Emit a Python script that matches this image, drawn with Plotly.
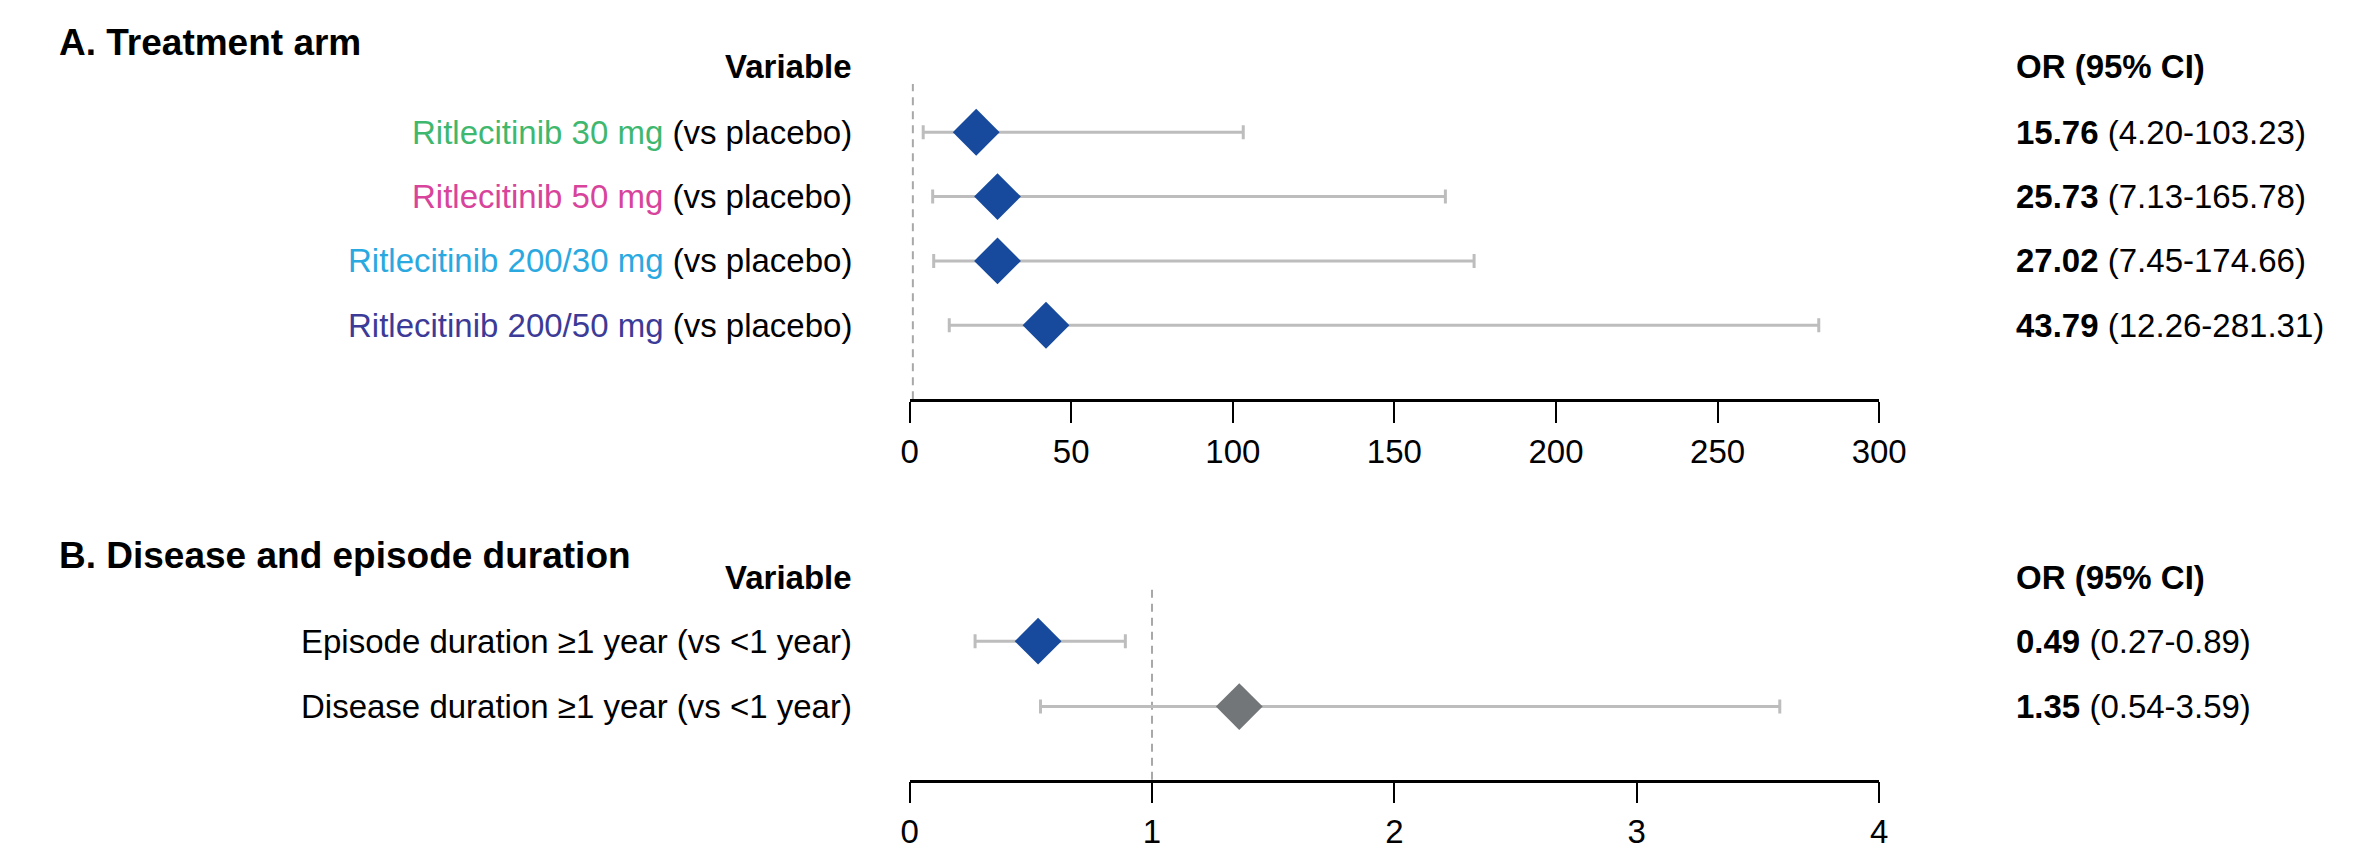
import plotly.graph_objects as go

# ---------------- data ----------------
# Panel A: treatment arm
drug_labels_a = ["Ritlecitinib 30 mg", "Ritlecitinib 50 mg",
                 "Ritlecitinib 200/30 mg", "Ritlecitinib 200/50 mg"]
label_colors_a = ["#3fb86f", "#d8449b", "#2aa9e1", "#3c3b97"]
or_a = [15.76, 25.73, 27.02, 43.79]
lo_a = [4.20, 7.13, 7.45, 12.26]
hi_a = [103.23, 165.78, 174.66, 281.31]
# diamond positions as drawn in the picture
mark_a = [20.6, 27.2, 27.2, 42.2]
ticks_a = [0, 50, 100, 150, 200, 250, 300]

# Panel B: disease and episode duration
labels_b = ["Episode duration ≥1 year (vs &lt;1 year)",
            "Disease duration ≥1 year (vs &lt;1 year)"]
or_b = [0.49, 1.35]
lo_b = [0.27, 0.54]
hi_b = [0.89, 3.59]
mark_b = [0.53, 1.36]
mark_colors_b = ["#174a9c", "#737678"]
ticks_b = [0, 1, 2, 3, 4]

# ---------------- layout constants ----------------
W, H = 2356, 850
FONT = "Liberation Sans, Arial, Helvetica, sans-serif"
FS = 33
BLUE = "#174a9c"
WHISKER = "#bdbdbd"

def px_x(p):
    return p / W

def px_y(p):
    return 1 - p / H

x_dom = [px_x(915), px_x(1900)]
ydomA = [px_y(404), px_y(85)]
ydomB = [px_y(789), px_y(592)]

fig = go.Figure()

rows_a = list(range(1, len(drug_labels_a) + 1))
rows_b = list(range(1, len(labels_b) + 1))

fig.add_trace(go.Scatter(
    x=mark_a, y=rows_a, mode="markers", xaxis="x", yaxis="y",
    marker=dict(symbol="diamond", size=36, color=BLUE, line=dict(width=0)),
    error_x=dict(type="data", symmetric=False,
                 array=[h - m for h, m in zip(hi_a, mark_a)],
                 arrayminus=[m - l for m, l in zip(mark_a, lo_a)],
                 color=WHISKER, thickness=3, width=7),
    cliponaxis=False, showlegend=False, hoverinfo="skip"))

fig.add_trace(go.Scatter(
    x=mark_b, y=rows_b, mode="markers", xaxis="x2", yaxis="y2",
    marker=dict(symbol="diamond", size=36, color=mark_colors_b, line=dict(width=0)),
    error_x=dict(type="data", symmetric=False,
                 array=[h - m for h, m in zip(hi_b, mark_b)],
                 arrayminus=[m - l for m, l in zip(mark_b, lo_b)],
                 color=WHISKER, thickness=3, width=7),
    cliponaxis=False, showlegend=False, hoverinfo="skip"))

axis_common = dict(showline=True, linecolor="black", linewidth=2.5,
                   ticks="outside", ticklen=21, tickwidth=2, tickcolor="black",
                   showgrid=False, zeroline=False,
                   tickfont=dict(family=FONT, size=FS, color="black"),
                   fixedrange=True)

fig.update_layout(
    width=W, height=H, autosize=False,
    margin=dict(l=0, r=0, t=0, b=0),
    paper_bgcolor="white", plot_bgcolor="white",
    font=dict(family=FONT, size=FS, color="black"),
    xaxis=dict(domain=x_dom, range=[0, 300], tickvals=ticks_a,
               anchor="y", **axis_common),
    yaxis=dict(domain=ydomA, range=[5.15, 0.25], visible=False,
               anchor="x", fixedrange=True),
    xaxis2=dict(domain=x_dom, range=[0, 4], tickvals=ticks_b,
                anchor="y2", **axis_common),
    yaxis2=dict(domain=ydomB, range=[3.12, 0.14], visible=False,
                anchor="x2", fixedrange=True),
)

# reference lines at OR = 1
for xr, yr in (("x", "y domain"), ("x2", "y2 domain")):
    fig.add_shape(type="line", xref=xr, yref=yr, x0=1, x1=1, y0=0, y1=1,
                  line=dict(color="#a8a8a8", width=2, dash="8px,6px"),
                  layer="below")

ann = []
LABEL_X = px_x(858)
OR_X = px_x(2037)

# titles
ann.append(dict(text="<b>A. Treatment arm</b>", x=px_x(49), y=px_y(43),
                xref="paper", yref="paper", xanchor="left", yanchor="middle",
                showarrow=False, font=dict(size=37, family=FONT)))
ann.append(dict(text="<b>B. Disease and episode duration</b>", x=px_x(49), y=px_y(562),
                xref="paper", yref="paper", xanchor="left", yanchor="middle",
                showarrow=False, font=dict(size=37, family=FONT)))

# headers
for yp in (67, 584):
    ann.append(dict(text="<b>Variable</b>", x=LABEL_X, y=px_y(yp), xref="paper",
                    yref="paper", xanchor="right", yanchor="middle",
                    showarrow=False, font=dict(size=FS, family=FONT)))
    ann.append(dict(text="<b>OR (95% CI)</b>", x=OR_X, y=px_y(yp), xref="paper",
                    yref="paper", xanchor="left", yanchor="middle",
                    showarrow=False, font=dict(size=FS, family=FONT)))

# panel A rows
for r, lab, col, o, l, h in zip(rows_a, drug_labels_a, label_colors_a, or_a, lo_a, hi_a):
    ann.append(dict(text=f'<span style="color:{col}">{lab}</span> (vs placebo)',
                    x=LABEL_X, y=r, xref="paper", yref="y", xanchor="right",
                    yanchor="middle", showarrow=False, font=dict(size=FS, family=FONT)))
    ann.append(dict(text=f"<b>{o:.2f}</b> ({l:.2f}-{h:.2f})",
                    x=OR_X, y=r, xref="paper", yref="y", xanchor="left",
                    yanchor="middle", showarrow=False, font=dict(size=FS, family=FONT)))

# panel B rows
for r, lab, o, l, h in zip(rows_b, labels_b, or_b, lo_b, hi_b):
    ann.append(dict(text=lab, x=LABEL_X, y=r, xref="paper", yref="y2",
                    xanchor="right", yanchor="middle", showarrow=False,
                    font=dict(size=FS, family=FONT)))
    ann.append(dict(text=f"<b>{o:.2f}</b> ({l:.2f}-{h:.2f})",
                    x=OR_X, y=r, xref="paper", yref="y2", xanchor="left",
                    yanchor="middle", showarrow=False, font=dict(size=FS, family=FONT)))

fig.update_layout(annotations=ann)

fig.write_html(
    "out.html",
    config={"displayModeBar": False},
    post_script="document.body.style.margin='0';document.body.style.overflow='hidden';",
)
